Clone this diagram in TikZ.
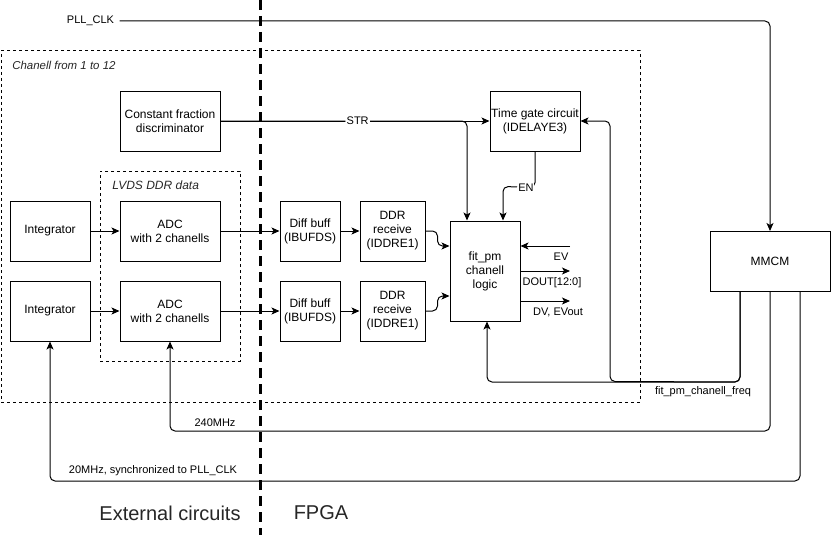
\documentclass[tikz,border=0pt]{standalone}
\usepackage{fontspec}
\setmainfont{Liberation Sans}
\usetikzlibrary{arrows.meta,calc}
\begin{document}
\begin{tikzpicture}[x=0.75pt,y=-0.75pt,
  every node/.style={font=\fontsize{9}{10.5}\selectfont},
  box/.style={draw,line width=0.75pt,align=center,inner sep=0pt,minimum height=45pt},
  dashbox/.style={draw,line width=0.75pt,dash pattern=on 2.25pt off 2.25pt,inner sep=0pt},
  conn/.style={line width=0.75pt,rounded corners=3.75pt},
  arr/.style={conn,-{Stealth[length=6pt,width=5.25pt,inset=1.5pt]}},
  small/.style={font=\fontsize{8.25}{9.5}\selectfont,inner sep=1pt},
  lbl/.style={small,fill=white},
  divider/.style={line width=2.25pt,dash pattern=on 7.5pt off 4.5pt},
  big/.style={font=\fontsize{15}{18}\selectfont,text=black!85},
]
\useasboundingbox (0,0) rectangle (831,535);

% dashed groups
\node[dashbox,minimum width=479.25pt,minimum height=263.25pt] (outer) at (320.5,226.5) {};
\node[dashbox,minimum width=105pt,minimum height=142.5pt] (lvds) at (170,266) {};
\node[anchor=west,font=\fontsize{8.6}{10}\selectfont\itshape,text=black!85,inner sep=0pt] (outerlbl) at (12,65) {Chanell from 1 to 12};
\node[anchor=west,font=\fontsize{9}{10}\selectfont\itshape,text=black!85,inner sep=0pt] (lvdslbl) at (112,185) {LVDS DDR data};

% divider
\coordinate (dtop) at (260,0);
\coordinate (dbot) at (260,535);
\draw[divider] (dtop) -- (dbot);

% boxes
\node[box,minimum width=75pt] (cfd) at (170,121) {Constant fraction\\discriminator};
\node[box,minimum width=60pt] (int1) at (50,231) {Integrator};
\node[box,minimum width=60pt] (int2) at (50,311) {Integrator};
\node[box,minimum width=75pt] (adc1) at (170,231) {ADC\\with 2 chanells};
\node[box,minimum width=75pt] (adc2) at (170,311) {ADC\\with 2 chanells};
\node[box,minimum width=45pt] (diff1) at (310,231) {Diff buff\\(IBUFDS)};
\node[box,minimum width=45pt] (diff2) at (310,311) {Diff buff\\(IBUFDS)};
\node[box,minimum width=48.75pt] (ddr1) at (392.5,231) {DDR\\receive\\(IDDRE1)};
\node[box,minimum width=48.75pt] (ddr2) at (392.5,311) {DDR\\receive\\(IDDRE1)};
\node[box,minimum width=52.5pt,minimum height=75pt] (fit) at (485,271) {fit\_pm\\chanell\\logic};
\node[box,minimum width=67.5pt] (tg) at (535,121) {Time gate circuit\\(IDELAYE3)};
\node[box,minimum width=90pt] (mmcm) at (770,261.5) {MMCM};

% PLL_CLK
\node[small,inner sep=4pt] (pll) at (90.5,21) {PLL\_CLK};
\draw[arr] (pll.east) -| (mmcm.north);

% data path
\draw[arr] (int1) -- (adc1);
\draw[arr] (int2) -- (adc2);
\draw[arr] (adc1) -- (diff1);
\draw[arr] (adc2) -- (diff2);
\draw[arr] (diff1) -- (ddr1);
\draw[arr] (diff2) -- (ddr2);
\draw[arr] (ddr1.east) -- ++(12,0) |- ($(fit.west)+(0,-25)$);
\draw[arr] (ddr2.east) -- ++(12,0) |- ($(fit.west)+(0,25)$);

% STR
\draw[arr] (cfd.east) -| ($(fit.north)+(-18,0)$);
\draw[arr] (cfd.east) -- node[lbl,pos=0.5,xshift=2pt] (str) {STR} (tg.west);

% EN
\draw[arr] (tg.south) -- ++(0,36) -- node[lbl,pos=0.28] (en) {EN} ($(fit.north)+(18,-34)$) -- ($(fit.north)+(18,0)$);

% EV, DOUT, DV
\coordinate (evsrc) at (570,246);
\coordinate (doutdst) at (570,271);
\coordinate (dvdst) at (570,301);
\draw[arr] (evsrc) -- (fit.east |- evsrc);
\draw[arr] (fit.east |- doutdst) -- (doutdst);
\draw[arr] (fit.east |- dvdst) -- (dvdst);
\node[small] (evl) at (561,257) {EV};
\node[small] (doutl) at (552,282.5) {DOUT[12:0]};
\node[small] (dvl) at (558,312.5) {DV, EVout};

% MMCM outputs
\draw[arr] ($(mmcm.south)+(-30,0)$) -- ++(0,90) -| ($(fit.south)+(2,0)$);
\draw[arr] ($(mmcm.south)+(-30,0)$) -- ++(0,90) -- (610,381.5) |- (tg.east);
\node[small] (freql) at (703,392) {fit\_pm\_chanell\_freq};

\draw[arr] (mmcm.south) -- ++(0,139) -| (adc2.south);
\node[small] (mhz240) at (215,422.5) {240MHz};

\draw[arr] ($(mmcm.south)+(30,0)$) -- ++(0,189) -| (int2.south);
\node[small] (mhz20) at (153,470.5) {20MHz, synchronized to PLL\_CLK};

% region labels
\node[big] (ext) at (170,513) {External circuits};
\node[big] (fpga) at (321,513) {FPGA};
\end{tikzpicture}
\end{document}
